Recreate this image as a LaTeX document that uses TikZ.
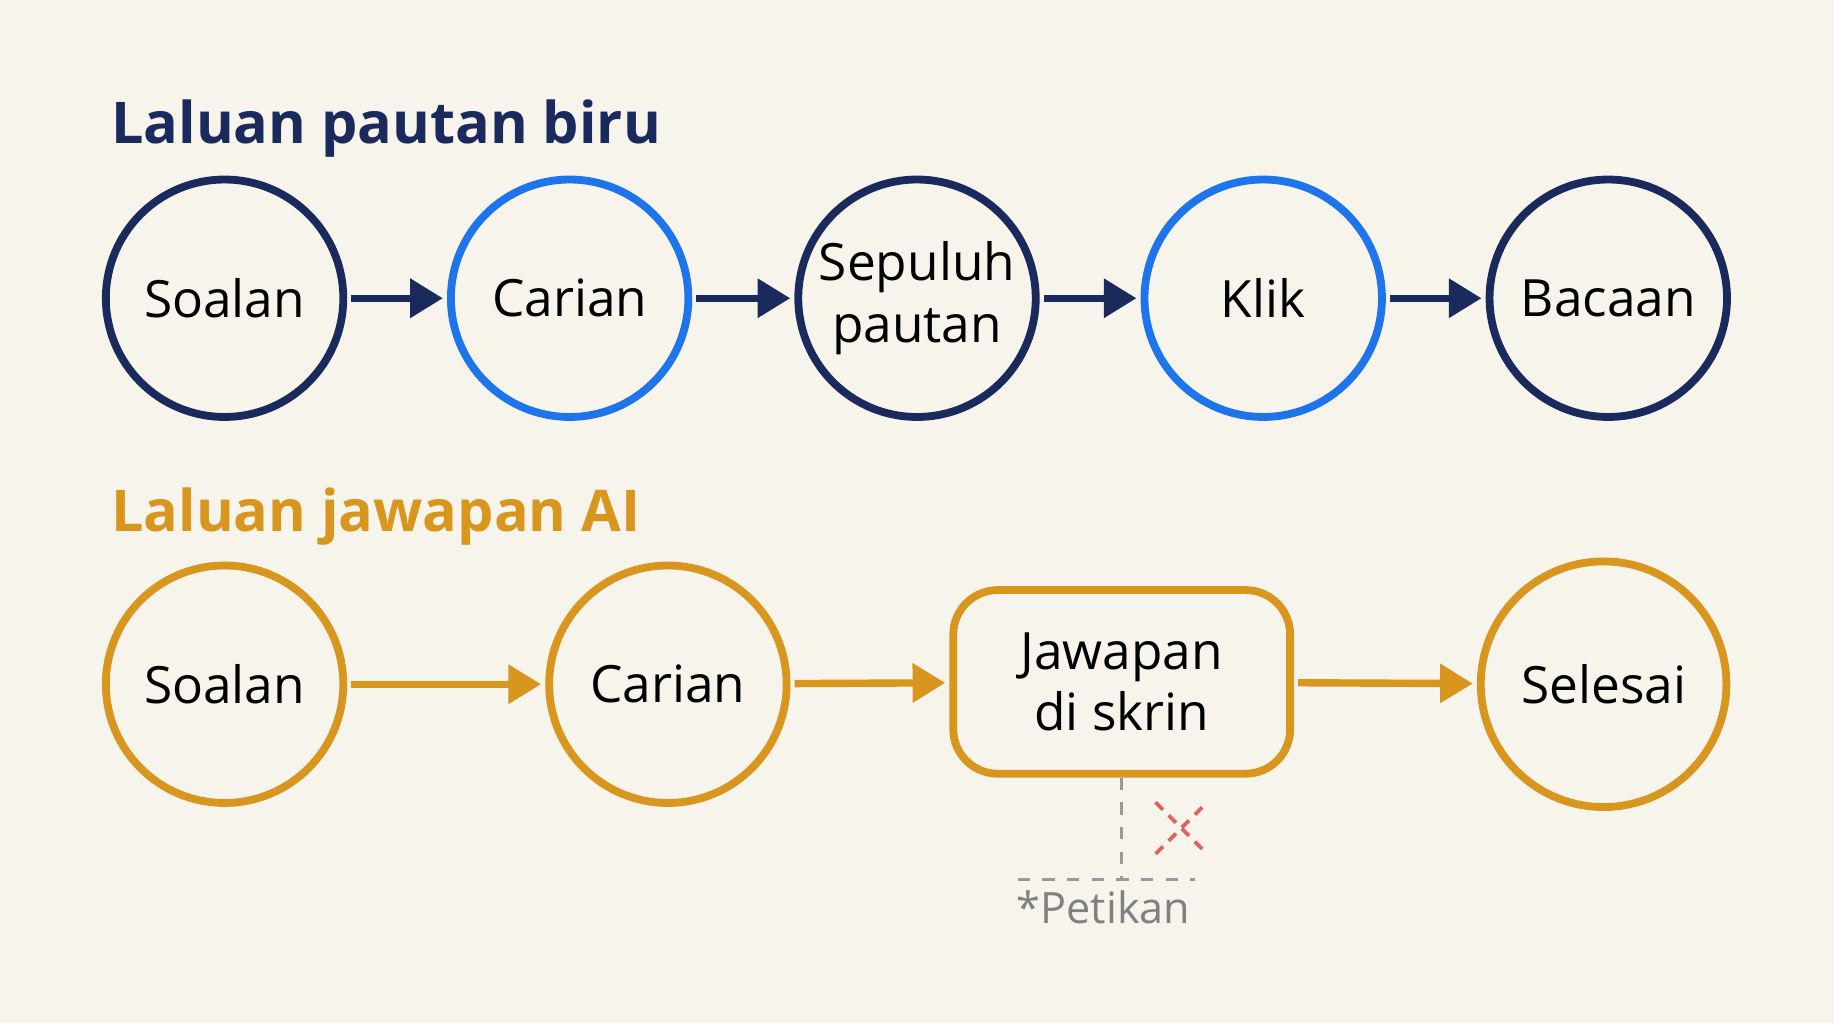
\documentclass[tikz,border=0pt]{standalone}
\usepackage{fontspec}
\setmainfont{Open Sans}
\usetikzlibrary{arrows.meta}
\definecolor{navy}{HTML}{1B2A5C}
\definecolor{linkblue}{HTML}{1E74EA}
\definecolor{aiorange}{HTML}{D9961F}
\definecolor{paper}{HTML}{F7F4EC}
\definecolor{xred}{HTML}{E06060}
\begin{document}
\begin{tikzpicture}[>=Triangle, thick,
    stage/.style = {draw, circle, line width=1.9pt, minimum size=2.03cm, inner sep=0pt,
      align=center, font=\fontsize{12.5}{15}\selectfont},
    nav/.style = {stage, draw=navy},
    blu/.style = {stage, draw=linkblue},
    ora/.style = {stage, draw=aiorange},
    flow/.style = {->, line width=1.8pt, shorten <=1pt, shorten >=1pt},
    guide/.style = {gray!80, dashed, line width=0.7pt}]
    % Background
    \fill[paper] (0,0) rectangle (15.68,8.75);
    \useasboundingbox (0,0) rectangle (15.68,8.75);

    % Titles
    \node[anchor=west, text=navy, font=\bfseries\fontsize{14}{16}\selectfont] (t1) at (0.82,7.65) {Laluan pautan biru};
    \node[anchor=west, text=aiorange, font=\bfseries\fontsize{14}{16}\selectfont] (t2) at (0.82,4.33) {Laluan jawapan AI};

    % Top row
    \node[nav] (q1) at (1.92,6.20) {Soalan};
    \node[blu] (s1) at (4.87,6.20) {Carian};
    \node[nav] (l1) at (7.84,6.20) {Sepuluh\\pautan};
    \node[blu] (k1) at (10.80,6.20) {Klik};
    \node[nav] (r1) at (13.75,6.20) {Bacaan};

    \foreach \a/\b in {q1/s1, s1/l1, l1/k1, k1/r1}
      \draw[flow, navy] (\a) -- (\b);

    % Bottom row
    \node[ora] (q2) at (1.92,2.90) {Soalan};
    \node[ora] (s2) at (5.71,2.90) {Carian};
    \node[ora, rectangle, rounded corners=0.38cm, minimum width=2.88cm, minimum height=1.57cm] (a2) at (9.59,2.92) {Jawapan\\di skrin};
    \node[ora, minimum size=2.1cm] (e2) at (13.71,2.90) {Selesai};

    \foreach \a/\b in {q2/s2, s2/a2, a2/e2}
      \draw[flow, aiorange] (\a) -- (\b);

    % Citation hint
    \coordinate (c0) at (9.59,1.23);
    \coordinate (cl) at (8.70,1.23);
    \coordinate (cr) at (10.22,1.23);
    \draw[guide] (a2.south) -- (c0);
    \draw[guide] (cl) -- (cr);
    \draw[xred, line width=0.9pt, dash pattern=on 2.5pt off 2pt] (9.88,1.89) -- (10.32,1.45) (9.88,1.45) -- (10.32,1.89);
    \node[anchor=north west, text=gray, inner sep=0pt, font=\fontsize{10.5}{12}\selectfont] (cite) at (8.68,1.15) {*Petikan};
\end{tikzpicture}
\end{document}
